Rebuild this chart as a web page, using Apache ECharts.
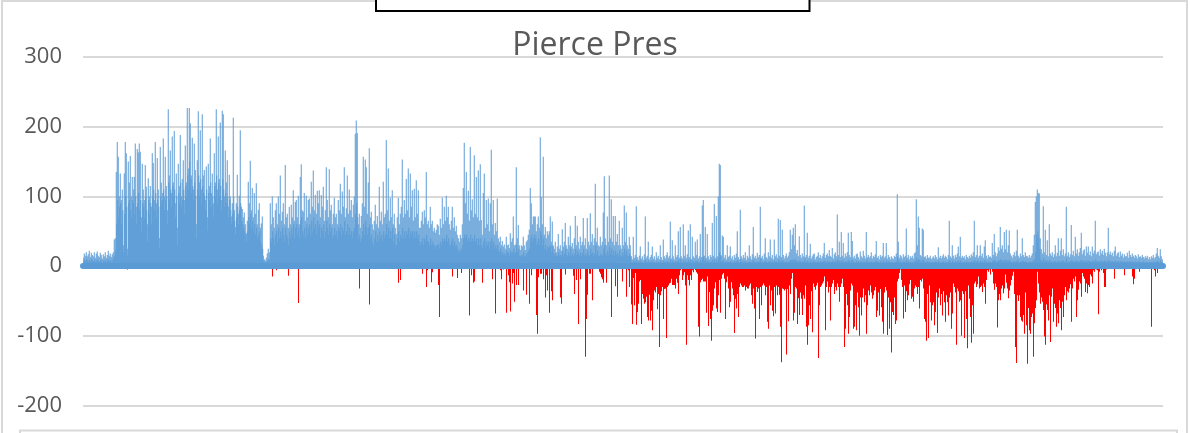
<!DOCTYPE html>
<html>
<head>
<meta charset="utf-8">
<script src="https://cdn.jsdelivr.net/npm/echarts@6/dist/echarts.min.js"></script>
<style>html,body{margin:0;padding:0;background:#fff;}#chart{width:1190px;height:433px;}</style>
</head>
<body>
<div id="chart"></div>
<script>
const chartTitle = 'Pierce Pres';
const yTicks = [-200, -100, 0, 100, 200, 300];

// Positive readings (blue), two samples per horizontal pixel step, read left to right
const posLead = [12,6,18,9,15,7,20,10,14,8,17,6,22,9,13,7,19,10,16,8,
14,7,20,9,12,6,18,8,21,10,15,7,13,6,19,9,16,8,11,5,
17,8,14,7,20,9,12,6,16,8,22,10,15,7,18,9,13,6,17,8,
20,12,38,15];
const posBlock = [40,22,135,60,178,95,157,70,100,85,133,90,95,60,110,80,30,20,133,75,
178,100,162,85,25,15,150,90,120,95,158,80,100,70,128,95,90,110,128,75,
176,100,85,60,168,90,163,105,176,80,164,95,70,50,147,90,110,85,95,70,
145,100,114,80,60,35,126,95,100,75,115,90,85,60,162,100,148,110,95,80,
178,105,90,70,155,95,110,85,40,25,171,100,120,90,95,105,183,110,100,80,
157,95,115,100,80,60,225,120,130,95,166,110,105,85,186,115,120,100,194,110,
90,70,133,100,55,30,147,105,115,90,188,120,100,85,125,95,152,110,95,75,
173,115,120,100,227,130,140,110,227,150,205,125,130,105,184,115,110,95,176,120,
138,100,60,40,152,110,222,130,120,100,195,125,110,90,218,115,130,105,138,100,
95,80,143,110,70,50,147,105,115,95,183,120,105,85,133,100,90,70,162,115,
120,100,225,130,110,90,186,120,125,100,206,115,95,80,223,125,218,110,100,85,
166,105,120,90,152,100,85,70,131,95,100,80,71,60,90,75,213,100,80,65,
56,45,90,70,131,85,75,60,101,80,195,90,85,65,82,60,70,55,77,50,
60,45,47,35,65,50,121,70,90,60,151,75,80,55,112,65,70,50,105,60,
75,45,119,55,60,40,81,45,90,50,55,35,61,30,71,25];
const posDip = [15,8,10,6,8,5,12,6,18,8,25,10];
const posMid = [20,10,90,40,60,35,100,50,70,40,55,30,80,45,90,50,60,35,100,55,
75,40,130,50,65,40,78,55,90,45,60,35,145,55,70,45,75,40,55,30,
85,50,60,40,88,55,70,45,109,60,65,40,92,55,95,60,70,45,101,55,
60,40,128,65,146,70,80,50,78,45,105,55,65,40,101,60,70,45,95,55,
97,60,75,45,121,65,85,50,137,70,80,55,102,60,75,45,108,65,90,55,
109,60,70,40,102,55,85,50,114,60,65,40,80,50,142,65,95,55,70,45,
139,60,80,50,88,55,60,40,75,45,98,55,70,45,75,50,60,40,95,55,
80,50,118,60,75,45,107,55,85,50,142,65,70,45,83,50,130,60,75,45,
110,55,80,45,95,50,70,40,88,50,100,55,190,75,209,90,191,70,60,40,
75,45,55,35,72,40,90,50,157,60,85,45,153,65,142,55,75,45,120,55,
169,60,70,40,78,45,60,35,52,30,65,40,88,50,60,35,72,45,55,35,
114,50,65,40,78,45,60,35,121,50,70,40,75,45,181,60,80,45,140,55,
65,40,98,50,70,40,109,55,60,35,75,45,55,30,46,30,70,40,98,50,
60,35,75,45,85,40,153,55,70,40,95,50,75,40,125,50,80,45,140,55,
70,40,133,50,85,45,109,50,65,40,111,50,70,40,123,50,75,40,109,45,
55,35,55,30,65,35,78,40,60,30,80,40,70,35,135,45,60,35,65,35,
55,30,85,40,60,30,65,35,50,30,55,30,48,25,52,30,60,30,58,32,
45,25,68,35,55,30,98,40,60,35,85,40,65,35,101,45,70,35,85,40,
60,30,52,30,65,35,85,40,55,30,70,35,50,28,58,30,45,25,40,22,
35,20,45,25,40,22,60,30,112,40,177,45,90,40,135,45,75,35,108,40,
65,35,171,45,80,35,96,40,70,35,159,45,75,35,128,40,70,30,137,40,
65,30,146,40];
const posFade = [66,30,45,25,105,35,133,40,55,28,95,35,60,30,97,35,50,25,90,35,
167,40,60,30,95,35,45,25,62,30,50,25,97,30,40,22,35,20,42,25,
30,18,36,20,28,16,31,18,25,15,42,22,30,18,31,20,26,15,47,22,
35,18,40,20,71,25,30,18,31,20,142,30,40,20,59,25,30,15,23,14,
30,16,28,15,42,20,30,15,23,14,35,18,37,20,45,22,52,25,112,40,
90,45,60,35,71,40,71,45,71,40,50,30,60,35,71,40,55,30,185,50,
99,45,60,30,157,40,45,25,56,30,40,22,50,28,45,25,50,28,71,30,
35,20,64,28,30,18,25,15,35,18,20,14,28,15,46,20,25,15,30,16,
22,14,53,22,28,15,35,18,62,25,30,16,25,14,42,20,30,15,58,25,
28,15,33,18,25,14,40,18,72,25,30,16,58,22,35,18,25,14,42,20,
30,15,35,18,69,25,30,15,40,18,25,14,69,22,35,16,30,15,76,25,
35,18,46,20,30,15,40,18,118,30,35,16,55,22,30,15,28,14,42,18,
30,15,35,16,77,25,129,30,40,18,30,15,71,22,35,16,130,28,40,18,
96,25,35,16,72,22,30,15,72,22,35,16,46,18,30,14,65,22,30,15,
25,14,55,20,30,15,87,25,35,16,77,22,30,15,25,14,42,18,30,15];
const posTailA = [14,6,10,5,42,8,12,6,16,7,86,10,13,6,9,5,15,7,28,8,
11,5,14,6,9,4,17,7,71,9,12,5,15,6,35,8,10,5,13,6,
16,7,28,8,11,5,14,6,9,4,20,7,12,5,15,6,10,5,30,8,
13,6,9,4,38,8,14,6,11,5,16,7,20,7,12,5,15,6,64,9,
11,5,37,8,14,6,10,5,30,7,13,6,16,7,50,9,12,5,56,10,
14,6,11,5,60,9,15,6,30,8,12,5,17,7,51,9,13,6,60,10,
10,5,42,8,14,6,12,5,35,8,16,7,38,8,11,5,14,6,46,9,
13,6,87,12,95,14,15,7,56,9,12,5,46,8,14,6,10,5,16,7,
13,6,62,9,15,6,89,10,12,5,72,9,14,6,100,12,147,20,145,16,
15,7,44,8,42,8,12,5,16,7,10,5,30,7,13,6,15,6,28,7,
11,5,14,6,9,4,16,7,12,5,18,7,50,9,13,6,10,5,81,10,
14,6,11,5,16,7,12,5,20,7,9,4,15,6,12,5,30,7,14,6,
10,5,17,7,56,9,12,5,15,6,11,5,19,7,13,6,16,7,85,11,
12,5,15,6,10,5,18,7,40,8,13,6,11,5,20,7,14,6,38,8,
12,5,16,7,10,5,38,8,14,6,17,7,12,5,68,9,15,6,66,9,
13,6,52,8,16,7,11,5,14,6,18,7,12,5,15,6,20,7,52,9,
24,8,45,9,55,10,30,8,60,10,18,7,23,7,14,6,43,8,16,7,
12,5,18,7,14,6,87,10,13,6,16,7,48,8,12,5,15,6,32,8,
11,5,14,6,17,7,18,7,10,5,13,6,15,6,20,7,12,5,16,7,
11,5,14,6,18,7,33,8,12,5,16,7,18,7,14,6,23,7,15,6,
13,6,26,8,11,5,17,7,20,8,14,6,74,10,16,7,35,8,13,6,
49,9,15,6,33,8,12,5,18,7,14,6,20,7,48,9,16,7,13,6,
49,9,36,8,12,5,15,6,11,5,17,7,18,7,13,6,10,5,21,7,
14,6,12,5,22,7,15,6,11,5,49,9,13,6,16,7,12,5,14,6,
20,7,11,5,15,6,13,6,17,7,36,8,12,5,14,6,10,5,16,7,
13,6,15,6,33,8,12,5,14,6,33,8,11,5,16,7,13,6,10,5,
14,6,12,5,10,5,15,6,13,6,18,7,103,14,35,8,12,5,16,7];
const posTailB = [14,6,11,5,17,7,13,6,15,6,54,9,12,5,16,7,10,5,14,6,
12,5,15,6,11,5,18,7,20,8,96,12,30,8,71,10,55,9,16,7,
14,6,54,9,52,9,13,6,14,6,11,5,16,7,12,5,12,6,15,6,
10,5,12,6,14,6,11,5,16,7,13,6,10,5,27,8,12,5,15,6,
11,5,14,6,17,7,12,5,15,6,13,6,10,5,16,7,65,9,14,6,
12,5,30,8,15,6,11,5,16,7,13,6,18,7,28,8,14,6,42,8,
12,5,15,6,12,6,14,6,10,5,16,7,13,6,11,5,15,6,12,5,
17,7,14,6,20,7,65,9,13,6,16,7,30,8,12,5,15,6,30,8,
14,6,18,7,12,5,28,8,37,8,15,6,11,5,16,7,13,6,14,6,
12,5,33,8,16,7,46,9,20,7,14,6,18,7,27,8,22,8,56,10,
25,8,30,8,20,7,49,9,24,8,52,9,20,7,30,8,51,9,18,7,
15,6,12,5,16,7,20,7,14,6,22,7,52,9,15,6,12,5,18,7,
14,6,40,8,16,7,13,6,20,7,15,6,14,6,12,5,16,7,12,6,
15,6,18,7,30,8,45,10,92,20,100,45,110,50,105,40,104,25,40,10,
24,8,18,7,86,12,20,7,52,9,16,7,37,8,14,6,60,9,18,7,
15,6,20,7,13,6,17,7,30,8,14,6,19,7,40,8,15,6,22,7,
40,8,16,7,24,8,14,6,18,7,85,11,15,6,20,7,13,6,17,7,
59,9,16,7,22,7,14,6,42,8,18,7,24,8,15,6,20,7,26,8,
48,9,17,7,22,7,24,8,15,6,28,8,19,7,28,8,16,7,21,7,
14,6,28,8,18,7,22,7,65,10,17,7,20,7,21,7,15,6,24,8,
18,7,22,7,16,7,25,8,19,7,14,6,20,7,55,9,17,7,21,7,
16,7,19,7,14,6,22,7,28,8,15,6,18,7,20,7,13,6,21,7,
15,6,18,7,12,5,17,7,14,6,14,6,19,7,12,5,22,7,16,7,
13,6,18,7,15,6,12,5,16,7,14,6,11,5,17,7,13,6,14,6,
12,5,16,7,13,6,11,5,14,6,12,5,15,6,10,5,13,6,10,5,
14,6,12,5,16,7,11,5,13,6,18,7,26,8,15,6,12,5,24,8,
14,6,10,5];

// Negative readings (red), one per horizontal pixel step
const negA = [0,0,0,0,0,0,0,0,0,0, 0,0,0,0,0,0,-4,0,0,0, 0,0,0,0,0,0,0,0,0,0, 0,0,0,0,0,0,0,0,0,0,
0,0,0,0,-5,0,0,0,0,0, 0,0,0,0,0,0,0,0,0,0, 0,0,0,0,0,0,0,0,0,0, 0,0,0,0,0,0,0,0,0,0,
0,0,0,0,0,0,0,0,0,0, 0,0,0,0,0,0,0,0,0,0, 0,0,0,0,0,0,0,0,0,0, 0,0,0,0,0,0,0,0,0,0,
0,0,0,0,0,0,0,0,0,0, 0,0,0,0,0,0,0,0,0,0, 0,0,0,0,0,0,0,0,0,0, 0,0,0,0,0,0,0,0,0,0,
0,0,0,0,0,0,0,0,0,0, 0,0,0,0,0,0,0,0,0,0, 0,0,0,0,0,0,0,0,0,-15, 0,0,0,-6,0,0,0,0,0,0,
0,0,0,0,0,-14,0,0,0,0, 0,0,0,0,0,-53,0,0,0,0, 0,0,0,0,0,0,0,0,0,0, 0,0,0,0,0,0,0,0,0,0,
0,0,0,0,0,0,0,0,0,0, 0,0,0,0,0,0,0,0,0,0, 0,0,0,0,0,0,0,0,0,0, 0,0,0,0,0,0,-32,0,0,0,
0,0,0,0,0,0,-55,0,0,0, 0,0,0,0,0,0,0,0,0,0, 0,0,0,0,0,0,0,0,0,0, 0,0,0,0,0,-24,0,-20,0,0,
0,0,0,0,0,0,0,0,0,-4, 0,0,0,0,0,0,0,0,0,-11, 0,0,0,-30,-6,0,0,0,-23,-9, 0,-4,0,0,0,-27,-73,0,0,0];
const negB = [0,0,0,0,0,0,0,0,0,-15, 0,0,0,0,-17,0,0,0,-10,0, 0,0,0,0,0,0,-71,0,-13,0, -24,-22,0,0,0,0,0,0,0,-24,
0,0,0,0,0,0,0,0,0,-19, 0,0,-68,0,0,0,0,-6,-19,0, -5,0,0,-67,0,-13,-23,-65,0,-25, -10,-51,0,-27,0,-27,0,0,0,0,
-35,-4,0,-41,0,0,-54,0,-13,0, 0,0,0,-70,-97,-16,0,-11,-11,0, -19,0,-45,-13,-35,0,-67,0,-36,-49, 0,0,0,0,0,0,0,-45,-54,0,
0,0,-12,0,0,0,0,0,0,0, -14,-40,0,-20,0,-83,0,-19,0,0, 0,0,-130,-76,-41,0,-11,-11,0,-49, 0,0,-4,0,0,-4,-8,-11,-16,-19,
-24,0,0,-24,0,0,0,0,-73,0, 0,0,-29,0,-44,0,0,0,0,-22, 0,0,0,-44,0,-6,-30,0,-55,-83, -17,-56,-10,-84,-66,-54,-22,-20,-83,-40,
-47,-54,-52,-44,-73,-78,-41,-78,-64,-92, -49,-35,-38,-30,-62,-40,-116,-42,-36,-30, -76,-33,-32,-103,-30,-28,-25,-24,-18,-27, -27,-27,-32,-18,-24,-40,-13,-6,-3,-20,
-13,-9,-28,-113,-13,-20,-28,-13,-20,-6, -9,-4,-6,-9,-11,-87,-101,-23,-20,-18, -22,-22,-22,-67,-15,-86,-37,-76,-107,-64, -56,-32,-23,-61,-66,-42,-20,-67,-18,-12,
-10,-18,-76,-23,-15,-32,-59,-51,-23,-32, -42,-96,-47,-61,-40,-73,-30,-25,-28,-30, -30,-28,-35,-30,-32,-32,-28,-25,-42,-54, -32,-61,-104,-30,-37,-32,-76,-30,-56,-28,
-25,-28,-42,-30,-80,-90,-28,-56,-35,-64, -72,-30,-68,-28,-42,-30,-41,-87,-138,-32, -33,-35,-33,-127,-33,-79,-28,-40,-18,-10, -78,-67,-30,-32,-83,-46,-70,-38,-47,-70];
const negC = [-42,-47,-28,-87,-113,-85,-56,-76,-36,-95, -25,-30,-34,-28,-24,-132,-56,-30,-28,-25, -22,-15,-92,-30,-22,-38,-30,-78,-30,-25, -20,-40,-30,-35,-25,-30,-51,-30,-25,-18,
-30,-116,-90,-40,-56,-97,-73,-35,-25,-28, -90,-87,-56,-92,-38,-59,-100,-45,-71,-45, -32,-52,-42,-97,-56,-35,-42,-28,-38,-47, -42,-35,-30,-73,-64,-38,-71,-33,-59,-80,
-97,-38,-30,-35,-99,-45,-90,-52,-124,-66, -70,-45,-83,-78,-22,-18,-10,-5,-20,-30, -75,-28,-66,-36,-49,-42,-26,-20,-47,-44, -51,-32,-28,-30,-40,-30,-61,-20,-22,-18,
-32,-76,-80,-107,-40,-103,-28,-52,-78,-56, -52,-85,-66,-38,-96,-45,-32,-56,-40,-71, -36,-52,-80,-42,-52,-71,-45,-38,-90,-68, -25,-30,-38,-113,-32,-36,-51,-49,-100,-36,
-40,-103,-36,-76,-118,-28,-47,-73,-110,-56, -97,-25,-22,-30,-26,-15,-32,-30,-28,-37, -25,-30,-54,-20,-6,-8,-5,-12,-4,-8, -25,-34,-25,-30,-88,-49,-40,-49,-32,-28,
-39,-32,-12,-24,-32,-46,-35,-28,-20,-14, -8,-40,-116,-139,-42,-50,-42,-73,-78,-80, -70,-97,-38,-85,-140,-60,-92,-97,-73,-68, -130,-82,-60,-49,-8,-25,-38,-54,-45,-51,
-63,-101,-113,-55,-63,-78,-42,-109,-44,-32, -80,-54,-60,-87,-68,-82,-49,-60,-92,-51, -73,-42,-30,-49,-36,-38,-32,-26,-80,-32, -18,-22,-15,-73,-49,-34,-22,-25,-44,-10,
-15,-18,-37,-25,-39,-27,-30,-12,-15,-25, -6,-8,-3,-5,-6,-69,-8,-3,-6,0, -10,-30,-30,-5,0,0,0,0,0,0, 0,-18,0,0,0,0,0,0,0,0,
0,-13,0,0,0,0,0,0,0,-15, -26,-18,0,0,0,0,-8,0,0,0, 0,0,0,0,0,0,0,0,-87,0, 0,-6,-15,0,-10,0,0,0,0,0];

const positiveSamples = [].concat(posLead, posBlock, posDip, posMid, posFade, posTailA, posTailB);
const negativeValues = [].concat(negA, negB, negC);
const posCategories = positiveSamples.map(function (_, i) { return i; });
const negCategories = negativeValues.map(function (_, i) { return i; });

const chart = echarts.init(document.getElementById('chart'), null, { renderer: 'canvas' });
const labelFont = 'Open Sans';
chart.setOption({
  animation: false,
  backgroundColor: '#ffffff',
  title: {
    text: chartTitle,
    left: 'center',
    top: 25,
    textStyle: { fontFamily: labelFont, fontSize: 32, fontWeight: 'normal', color: '#595959' }
  },
  graphic: [
    { type: 'rect', silent: true, z: -10, shape: { x: 2, y: 1, width: 1185, height: 470 },
      style: { fill: 'none', stroke: '#D9D9D9', lineWidth: 2 } },
    { type: 'rect', silent: true, z: 100, shape: { x: 20, y: 430.5, width: 1157, height: 40 },
      style: { fill: '#ffffff', stroke: '#D9D9D9', lineWidth: 2 } },
    { type: 'rect', silent: true, z: 100, shape: { x: 376, y: -10, width: 433.5, height: 21 },
      style: { fill: '#ffffff', stroke: '#000000', lineWidth: 2 } }
  ],
  grid: { left: 83, right: 27, top: 57, bottom: 27.5, containLabel: false, outerBoundsMode: 'none' },
  xAxis: [
    { type: 'category', data: posCategories, boundaryGap: true, z: 10,
      axisLine: { show: true, onZero: true, lineStyle: { color: '#5B9BD5', width: 6, cap: 'round' } },
      axisTick: { show: false }, axisLabel: { show: false }, splitLine: { show: false } },
    { type: 'category', data: negCategories, boundaryGap: true, show: false,
      axisLine: { show: false }, axisTick: { show: false }, axisLabel: { show: false }, splitLine: { show: false } }
  ],
  yAxis: {
    type: 'value',
    min: yTicks[0],
    max: yTicks[yTicks.length - 1],
    interval: yTicks[1] - yTicks[0],
    axisLine: { show: false },
    axisTick: { show: false },
    axisLabel: { color: '#595959', fontSize: 22, fontFamily: labelFont, margin: 21 },
    splitLine: { show: true, lineStyle: { color: '#D9D9D9', width: 2 } }
  },
  series: [
    { type: 'bar', name: 'positive', xAxisIndex: 0, data: positiveSamples,
      barWidth: 1, barMinWidth: 0.1, barGap: '-100%', silent: true,
      progressive: 0, large: false, itemStyle: { color: '#5B9BD5' } },
    { type: 'bar', name: 'negative', xAxisIndex: 1, data: negativeValues,
      barWidth: 1, barMinWidth: 0.1, barCategoryGap: '0%', silent: true,
      progressive: 0, large: false, itemStyle: { color: '#FF0000' } }
  ]
});
</script>
</body>
</html>
